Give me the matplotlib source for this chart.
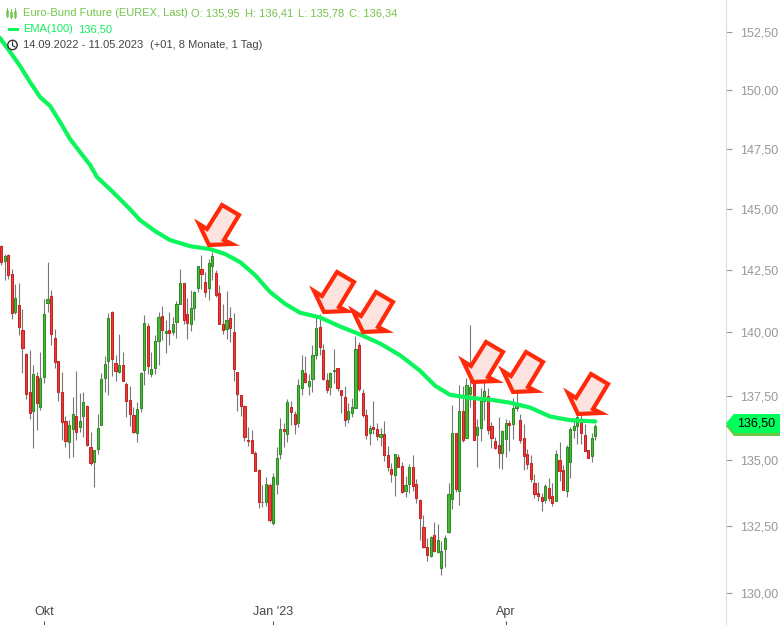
import matplotlib
matplotlib.use('Agg')
import matplotlib.pyplot as plt
from matplotlib.patches import Polygon, Circle
from matplotlib.transforms import Affine2D

plt.rcParams['font.family'] = ['Liberation Sans', 'DejaVu Sans']

opens = [143.48,142.87,143.12,142.33,140.81,141.10,140.11,139.16,137.65,136.91,138.28,137.06,138.23,141.17,141.46,139.79,138.88,137.65,136.50,135.71,136.21,136.73,136.29,136.71,137.11,135.53,134.94,135.44,136.37,138.19,138.86,140.82,138.80,138.43,138.72,137.96,137.34,136.76,136.06,137.03,138.51,140.27,
         138.35,138.59,139.66,140.66,139.97,140.11,140.01,140.41,141.13,141.97,140.74,140.33,140.97,141.80,142.57,142.01,141.80,142.69,142.37,141.58,140.35,140.13,140.58,140.03,138.44,137.53,137.11,135.77,135.80,135.30,134.64,133.41,133.40,134.07,132.63,134.09,135.25,136.22,136.03,137.07,136.80,136.44,
         137.79,138.40,137.87,138.15,139.12,140.23,139.31,138.12,137.83,138.47,138.60,137.73,137.45,136.61,136.82,137.02,139.51,137.61,136.76,136.05,136.30,136.22,135.90,136.03,135.22,134.68,134.45,135.14,134.80,133.82,134.09,134.76,134.10,133.49,132.45,131.72,131.36,132.18,131.53,130.91,131.64,132.26,
         133.53,136.07,133.83,136.91,135.87,137.56,138.05,135.98,136.26,137.31,137.49,136.32,135.76,135.57,135.30,135.84,136.45,136.41,137.03,136.57,135.87,135.26,134.91,134.14,133.76,133.60,133.49,133.95,133.64,133.45,135.03,134.64,133.82,134.95,136.18,136.34,136.57,135.99,135.41,135.18,135.95]
highs = [143.53,143.18,143.18,142.54,141.95,141.99,140.95,139.20,139.29,138.73,138.45,139.21,141.35,142.82,141.71,140.12,138.88,138.45,136.70,136.55,137.47,138.49,137.62,137.66,137.16,136.09,135.38,136.78,138.40,139.06,140.78,140.86,139.12,139.92,139.21,138.04,137.90,137.08,137.24,138.44,140.68,140.36,
         139.23,139.88,140.83,141.07,140.49,140.83,140.60,141.27,142.54,141.97,141.39,141.71,141.68,142.69,143.11,142.42,142.94,143.25,142.50,141.89,141.15,141.67,141.03,140.76,138.44,137.53,137.16,136.27,136.16,135.35,134.68,134.04,134.35,134.13,134.50,135.50,136.62,136.43,137.38,137.31,136.90,138.14,
         139.09,139.05,138.34,139.49,140.62,140.72,139.53,138.40,138.45,139.33,138.60,137.73,137.90,137.23,137.41,139.84,139.63,137.77,136.97,136.35,137.31,136.43,136.25,136.50,135.54,134.91,135.26,135.26,134.93,134.41,134.84,135.22,134.30,133.53,132.92,132.05,132.14,132.65,132.58,131.92,132.18,134.14,
         137.16,136.07,137.94,137.87,138.20,140.28,138.43,136.58,137.81,139.49,137.81,136.49,135.90,136.68,136.18,136.60,136.54,137.41,138.06,136.80,136.39,135.45,135.22,134.46,134.18,133.76,134.10,134.33,134.14,135.41,135.69,134.81,135.60,136.28,136.64,137.16,136.80,136.41,135.41,136.07,136.41]
lows = [142.71,142.11,142.16,140.52,140.72,139.88,138.41,137.36,136.59,135.47,136.16,136.93,138.02,140.80,139.49,138.61,137.28,135.77,135.51,135.08,135.12,135.77,136.09,135.89,135.55,134.81,133.97,135.23,136.37,137.65,137.54,138.27,138.10,138.40,138.07,136.67,136.32,136.05,135.70,136.87,137.94,138.37,
        138.23,138.37,138.70,139.72,139.17,139.52,139.88,139.78,141.13,140.33,139.76,140.04,140.49,141.63,141.73,141.43,141.31,142.10,141.44,140.33,139.92,139.76,139.64,138.10,136.89,136.73,135.73,135.54,135.28,134.59,133.19,133.23,133.27,132.65,132.55,133.73,135.05,135.52,135.71,136.36,136.02,136.29,
        137.54,138.02,137.52,137.63,138.94,139.09,138.11,137.62,137.52,138.00,137.67,136.82,136.32,136.44,136.67,137.02,137.67,136.67,135.81,135.58,136.03,135.77,135.55,134.98,134.59,134.16,133.63,134.75,133.74,133.59,133.74,133.81,133.37,131.96,131.67,131.20,131.32,131.54,131.49,130.67,130.97,132.23,
        133.13,133.78,133.28,135.71,135.87,137.05,135.80,134.75,135.75,136.54,136.03,135.49,135.45,134.71,134.67,135.14,135.36,135.81,136.90,135.67,134.63,134.65,134.17,133.55,133.44,133.05,133.36,133.44,133.26,133.45,134.22,133.87,133.59,134.32,135.87,135.62,135.62,135.35,135.07,134.94,135.78]
closes = [142.83,143.08,142.32,140.78,141.38,140.21,139.38,137.59,136.83,138.36,137.21,138.20,140.74,141.35,139.94,138.82,137.63,136.48,135.75,136.38,136.80,136.10,136.53,137.27,135.60,134.90,135.38,136.26,138.16,138.76,140.58,138.94,138.47,138.72,138.07,137.29,136.79,136.10,137.00,138.40,140.39,138.67,
          138.57,139.67,140.62,140.09,140.07,139.97,140.35,141.14,141.97,140.49,140.37,140.98,141.62,142.69,142.36,141.64,142.81,143.06,141.52,140.35,140.09,140.50,140.17,138.55,137.59,137.09,135.90,135.75,135.28,134.59,133.40,133.40,134.10,132.71,134.37,135.07,136.22,136.13,137.26,136.86,136.40,137.92,
          138.52,138.03,138.08,139.12,140.19,139.42,138.15,137.71,138.40,138.52,137.79,137.52,136.55,136.91,137.07,139.35,137.75,136.75,135.98,136.26,136.22,135.94,136.03,135.21,134.75,134.49,135.26,134.75,133.78,134.07,134.76,134.01,133.56,132.82,131.70,131.40,132.10,131.56,131.99,131.56,132.03,133.72,
          136.07,133.91,136.91,135.80,137.93,137.85,135.80,136.30,137.37,137.69,136.18,135.87,135.49,135.30,136.14,136.45,136.36,137.03,137.18,135.80,135.18,134.87,134.30,133.72,133.64,133.45,134.03,133.56,133.37,135.26,134.60,133.87,135.53,136.22,136.34,136.68,136.05,135.37,135.07,135.87,136.34]

ema_idx = [-0.3,2.5,5.3,8.1,10.9,13.7,16.5,19.3,22.1,24.9,26.8,30.4,33.2,36,38.8,43,47.2,52.8,58.4,62.6,66.8,71,75.1,79.3,83.5,89.1,94.7,100.3,105.9,111.5,117,121.2,125.4,131,136.6,142.2,147.8,153.4,159,166]
ema_vals = [152.24,151.64,151.03,150.34,149.70,149.32,148.64,147.92,147.37,146.83,146.33,145.83,145.42,145.00,144.55,144.10,143.73,143.48,143.36,143.16,142.83,142.30,141.63,141.15,140.79,140.60,140.24,139.92,139.56,139.09,138.49,137.90,137.54,137.42,137.35,137.23,137.04,136.69,136.55,136.50]

price_ticks = [130, 132.5, 135, 137.5, 140, 142.5, 145, 147.5, 150, 152.5]
month_pos = [12, 76, 141]
month_labels = ['Okt', "Jan '23", 'Apr']

# tips of the hand drawn arrows, in pixels from the top left
arrow_tips = [(209, 245), (324, 312), (363, 332), (473, 382), (513, 392), (578, 414)]
arrow_shape = [(0, 0), (23, -1), (15, -5), (30, -30), (13, -40), (-2, -16), (-10, -21)]

RED = '#e63f3c'
RED_EDGE = '#c42424'
GREEN = '#4bb93b'
GREEN_EDGE = '#2d8c22'
EMA = '#0cf55c'

fig = plt.figure(figsize=(7.8, 6.25), dpi=100)
ax = fig.add_axes([0, 0, 726 / 780, 1])
px = Affine2D().scale(1, -1).translate(0, 625)

idx = list(range(len(opens)))
ax.vlines(idx, lows, highs, color='#777777', lw=0.8, zorder=2)
for i in idx:
    up = closes[i] >= opens[i]
    ax.bar(i, abs(closes[i] - opens[i]), bottom=min(opens[i], closes[i]), width=0.6,
           color=GREEN if up else RED, edgecolor=GREEN_EDGE if up else RED_EDGE,
           linewidth=0.75, zorder=3)

ax.plot(ema_idx, ema_vals, color=EMA, lw=3, zorder=4, solid_capstyle='round')

ax.set_yscale('log')
ax.set_ylim(128.82, 153.89)
ax.set_xlim(-0.28, 202.5)
ax.set_yticks(price_ticks)
ax.set_yticklabels([('%.2f' % p).replace('.', ',') for p in price_ticks])
ax.minorticks_off()
ax.yaxis.tick_right()
ax.tick_params(axis='y', direction='out', length=4, width=0.8, color='#999999',
               labelcolor='#999999', labelsize=9, pad=6)
ax.set_xticks(month_pos)
ax.set_xticklabels(month_labels)
ax.tick_params(axis='x', direction='in', length=3, width=0.8, color='#555555',
               labelcolor='#444444', labelsize=9, pad=-14)

for side in ['top', 'left', 'bottom']:
    ax.spines[side].set_visible(False)
ax.spines['right'].set_color('#dddddd')
ax.spines['right'].set_linewidth(0.8)

for tx, ty in arrow_tips:
    pts = [(tx + dx, ty + dy) for dx, dy in arrow_shape]
    fig.add_artist(Polygon(pts, closed=True, transform=px, facecolor='#fde3e0',
                           edgecolor='#ff2a0a', lw=3, joinstyle='miter', zorder=5))

# price tag on the axis
tag_y = 423
fig.add_artist(Polygon([(726, tag_y + 3), (734, tag_y + 13), (780, tag_y + 13), (780, tag_y - 9),
                        (734, tag_y - 9)], closed=True, transform=px, facecolor='#6cc644',
                       edgecolor='none', zorder=6))
fig.add_artist(Polygon([(726, tag_y), (734, tag_y - 9), (780, tag_y - 9), (780, tag_y + 10),
                        (734, tag_y + 10)], closed=True, transform=px, facecolor='#00ff5a',
                       edgecolor='none', zorder=7))
fig.text(737 / 780, 1 - tag_y / 625, ('%.2f' % ema_vals[-1]).replace('.', ','), color='black',
         fontsize=9, va='center', ha='left', zorder=8)

def header(x, y, s, color):
    fig.text(x / 780, 1 - y / 625, s, color=color, fontsize=8, va='center', ha='left', zorder=8)

header(23, 13, 'Euro-Bund Future (EUREX, Last)', '#74c54c')
header(191, 13, 'O: 135,95', '#74c54c')
header(245, 13, 'H: 136,41', '#74c54c')
header(298, 13, 'L: 135,78', '#74c54c')
header(349, 13, 'C: 136,34', '#74c54c')
header(23, 29, 'EMA(100)', '#14ee5e')
header(78, 29, '136,50', '#14ee5e')
header(23, 45, '14.09.2022 - 11.05.2023', '#444444')
header(150, 45, '(+01, 8 Monate, 1 Tag)', '#444444')

# little header icons
for ix, y0, y1, b0, b1 in [(7, 8, 17, 11, 15), (11, 9, 18, 13, 16), (15, 8, 18, 12, 16)]:
    fig.add_artist(plt.Line2D([ix, ix], [y0, y1], color='#74c54c', lw=0.7, transform=px))
    fig.add_artist(plt.Line2D([ix, ix], [b0, b1], color='#74c54c', lw=1.8, transform=px))
fig.add_artist(plt.Line2D([9, 17], [29, 29], color=EMA, lw=2.2, transform=px))
fig.add_artist(Circle((12.5, 45), 4.7, transform=px, facecolor='white', edgecolor='#333333', lw=1, zorder=6))
fig.add_artist(plt.Line2D([12.5, 12.5, 15], [42, 45.5, 47], color='#333333', lw=0.8, transform=px, zorder=7))

fig.savefig('out.png', dpi=100)
